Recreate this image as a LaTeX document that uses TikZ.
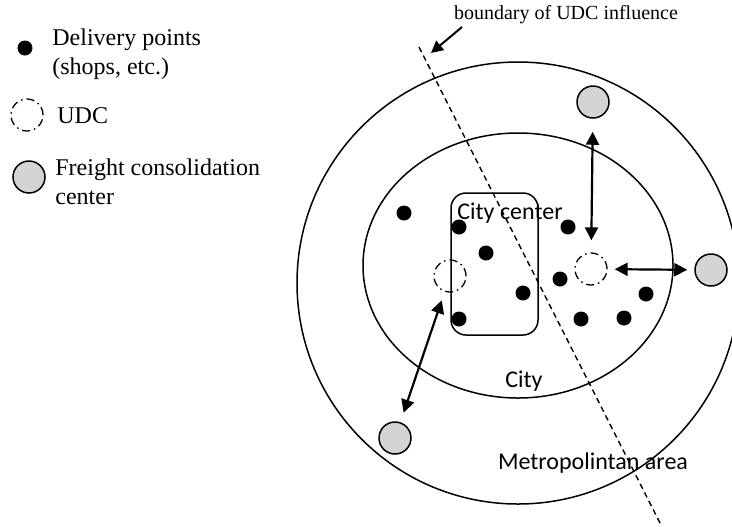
\documentclass[tikz,border=0pt]{standalone}
\usepackage{fontspec}
\setmainfont{Liberation Serif}
\newfontfamily\calib{Carlito}
\usetikzlibrary{arrows.meta,shapes.geometric}
\definecolor{fccgray}{RGB}{212,212,212}
\tikzset{
  area/.style={draw=black, line width=0.75pt},
  dpoint/.style={circle, fill=black, minimum size=7.5pt, inner sep=0pt},
  udc/.style={circle, draw=black, line width=0.65pt, minimum size=16pt, inner sep=0pt,
    dash pattern=on 4pt off 2pt on 0.8pt off 2pt},
  fcc/.style={circle, draw=black, fill=fccgray, line width=0.75pt, minimum size=16pt, inner sep=0pt},
  arr/.style={line width=1pt, -{Triangle[length=6pt,width=6pt]}},
  darr/.style={line width=1.1pt, {Triangle[length=6.5pt,width=6.5pt]}-{Triangle[length=6.5pt,width=6.5pt]}},
  serlbl/.style={font=\fontsize{12}{14.5}\selectfont, inner sep=0pt, align=left},
  sanslbl/.style={font=\calib\fontsize{12}{14}\selectfont, inner sep=0pt},
}
\begin{document}
\begin{tikzpicture}[x=0.5pt,y=-0.5pt]
\useasboundingbox (0,0) rectangle (732,526);
% legend
\node[dpoint] (ldp) at (25,48) {};
\node[serlbl, anchor=west] (ldpt) at (52,54) {Delivery points\\(shops, etc.)};
\node[udc] (ludc) at (27,115) {};
\node[serlbl, anchor=west] (ludct) at (57,116) {UDC};
\node[fcc] (lfcc) at (29,177) {};
\node[serlbl, anchor=west] (lfcct) at (55,182) {Freight consolidation\\center};
% areas
\node[area, circle, minimum size=221pt, inner sep=0pt] (metro) at (518,283) {};
\node[area, ellipse, minimum width=155pt, minimum height=132.5pt, inner sep=0pt] (city) at (518,265.5) {};
\node[area, rectangle, rounded corners=7.5pt, minimum width=43.5pt, minimum height=71pt, inner sep=0pt] (cc) at (494.5,264) {};
% boundary line
\coordinate (bt) at (419,47);
\coordinate (bb) at (660,523);
\draw[line width=0.7pt, dash pattern=on 2.8pt off 2pt] (bt) -- (bb);
% labels
\node[sanslbl] (cct) at (510,213) {City center};
\node[sanslbl] (cityt) at (524,381) {City};
\node[sanslbl] (metrot) at (593,463) {Metropolintan area};
\node[font=\fontsize{10}{12}\selectfont, inner sep=0pt] (blbl) at (566,15) {boundary of UDC influence};
\coordinate (as) at (462,27);
\coordinate (tipc) at (431,53);
\draw[arr] (as) -- (tipc);
% delivery points
\foreach \p/\x/\y in {1/404/213, 2/459/227, 3/486/253, 4/523/293, 5/459/319, 6/568/227, 7/560/279, 8/646/294, 9/581/319, 10/624/318}
  \node[dpoint] (d\p) at (\x,\y) {};
% UDCs and consolidation centres
\node[udc] (u1) at (450,276) {};
\node[udc] (u2) at (591,269) {};
\node[fcc] (f1) at (593,102) {};
\node[fcc] (f2) at (711,270) {};
\node[fcc] (f3) at (395,438) {};
% arrows
\draw[darr, shorten <=6.5pt, shorten >=6pt] (f1) -- (u2);
\draw[darr, shorten <=3.5pt, shorten >=3.5pt] (u2) -- (f2);
\draw[darr, shorten <=4.5pt, shorten >=5pt] (u1) -- (f3);
\end{tikzpicture}
\end{document}
